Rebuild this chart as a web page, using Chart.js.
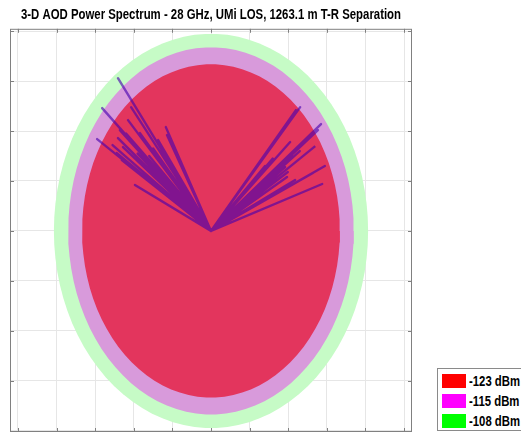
<!DOCTYPE html>
<html>
<head>
<meta charset="utf-8">
<script src="https://cdn.jsdelivr.net/npm/chart.js@4.4.1/dist/chart.umd.min.js"></script>
<style>
  body { margin: 0; background: #fff; overflow: hidden; }
  #wrap { position: relative; width: 521px; height: 435px; overflow: hidden; }
  #legend {
    position: absolute; left: 437px; top: 368px; width: 90px; height: 63px;
    box-sizing: border-box; border: 1px solid #8a8a8a; background: #fff;
    font: bold 14px "Liberation Sans", Arial, sans-serif;
    padding-top: 2px; white-space: nowrap;
  }
  #legend div { height: 20px; display: flex; align-items: center; }
  #legend span.sw { display: inline-block; flex: none; width: 24px; height: 14px; margin: 0 3px 0 4px; }
  #legend span.tx { display: inline-block; transform: scaleX(0.81); transform-origin: left center; }
</style>
</head>
<body>
<div id="wrap">
  <canvas id="chart"></canvas>
  <div id="legend"></div>
</div>
<script>
const titleText = '3-D AOD Power Spectrum - 28 GHz, UMi LOS, 1263.1 m T-R Separation';

// power rings (inner to outer)
const ringLabels = ['-123 dBm', '-115 dBm', '-108 dBm'];
const ringRadiusX = [3.34, 3.70, 4.07];
const ringRadiusY = [3.34, 3.68, 3.95];
const ringFill = ['#e3355d', '#d89adb', '#c6fbc6'];
const legendSwatch = ['#ff0000', '#ff00ff', '#00ff00'];

// ray end points (same units as the grid)
const rayX = [-2.41, -2.82, -2.95, -2.07, -1.17, -1.14, -1.84, -2.36, -2.41, -2.28, -2.44, -2.31, -1.97, -2.15, -1.37, -1.60, -1.90, -1.75,
              -2.00, -1.50, -2.20, -1.70, -2.55, -1.30,
              2.31, 2.20, 2.85, 2.77, 2.05, 2.95, 2.88, 2.64, 1.92, 1.99, 1.97, 2.18, 1.87, 1.74, 2.44, 1.53,
              2.60, 2.30, 1.60, 2.10, 1.40, 2.70];
const rayY = [3.06, 2.46, 1.84, 2.48, 2.08, 1.92, 1.96, 2.02, 1.86, 1.68, 1.56, 1.42, 0.92, 2.22, 1.82, 1.50, 1.55, 1.30,
              1.75, 1.65, 1.95, 1.40, 1.72, 1.60,
              2.48, 2.42, 2.14, 2.02, 1.78, 1.30, 0.94, 1.16, 1.28, 1.18, 1.08, 1.02, 1.38, 1.26, 1.82, 1.12,
              1.95, 1.60, 1.45, 1.50, 1.30, 1.70];

function ringPoints(rx, ry) {
    const pts = [];
    for (let a = 0; a <= 360; a += 4) {
        const t = a * Math.PI / 180;
        pts.push({ x: rx * Math.cos(t), y: ry * Math.sin(t) });
    }
    return pts;
}

const rayPoints = [];
rayX.forEach((x, i) => {
    rayPoints.push({ x: 0, y: 0 });
    rayPoints.push({ x: x, y: rayY[i] });
});

const datasets = [{
    label: 'rays',
    data: rayPoints,
    showLine: true,
    borderColor: 'rgba(70, 0, 175, 0.62)',
    borderWidth: 2.4,
    borderJoinStyle: 'round',
    pointRadius: 0,
    fill: false
}];
ringLabels.forEach((lab, i) => {
    datasets.push({
        label: lab,
        data: ringPoints(ringRadiusX[i], ringRadiusY[i]),
        showLine: true,
        borderWidth: 0,
        borderColor: ringFill[i],
        backgroundColor: ringFill[i],
        pointRadius: 0,
        fill: 'shape'
    });
});

// box, inward tick marks and the (condensed) title like the original figure
const boxPlugin = {
    id: 'box',
    afterDraw(chart) {
        const { ctx, chartArea: a, scales } = chart;
        ctx.save();
        ctx.strokeStyle = '#808080';
        ctx.lineWidth = 1;
        ctx.strokeRect(a.left + 0.5, a.top + 0.5, a.right - a.left - 1, a.bottom - a.top - 1);
        ctx.beginPath();
        scales.x.ticks.forEach(t => {
            const px = Math.round(scales.x.getPixelForValue(t.value)) + 0.5;
            ctx.moveTo(px, a.top); ctx.lineTo(px, a.top + 4);
            ctx.moveTo(px, a.bottom); ctx.lineTo(px, a.bottom - 4);
        });
        scales.y.ticks.forEach(t => {
            const py = Math.round(scales.y.getPixelForValue(t.value)) + 0.5;
            ctx.moveTo(a.left, py); ctx.lineTo(a.left + 4, py);
            ctx.moveTo(a.right, py); ctx.lineTo(a.right - 4, py);
        });
        ctx.stroke();

        ctx.fillStyle = '#000';
        ctx.font = 'bold 14px "Liberation Sans", Arial, sans-serif';
        ctx.textAlign = 'center';
        ctx.textBaseline = 'middle';
        ctx.fillText(titleText, (a.left + a.right) / 2, 15, 380);
        ctx.restore();
    }
};

new Chart(document.getElementById('chart'), {
    type: 'scatter',
    data: { datasets: datasets },
    options: {
        responsive: true,
        maintainAspectRatio: false,
        animation: false,
        layout: { padding: { left: 10, right: 109, top: 28.8, bottom: 3 } },
        plugins: {
            legend: { display: false },
            tooltip: { enabled: false },
            title: { display: false }
        },
        scales: {
            x: {
                type: 'linear', min: -5.207, max: 5.207,
                ticks: { display: false, stepSize: 1, includeBounds: false },
                grid: { color: '#e6e6e6', drawTicks: false },
                border: { display: false }
            },
            y: {
                type: 'linear', min: -4.03, max: 4.05,
                ticks: { display: false, stepSize: 1, includeBounds: false },
                grid: { color: '#e6e6e6', drawTicks: false },
                border: { display: false }
            }
        }
    },
    plugins: [boxPlugin]
});

document.getElementById('legend').innerHTML = ringLabels
    .map((lab, i) => `<div><span class="sw" style="background:${legendSwatch[i]}"></span><span class="tx">${lab}</span></div>`)
    .join('');
</script>
</body>
</html>
